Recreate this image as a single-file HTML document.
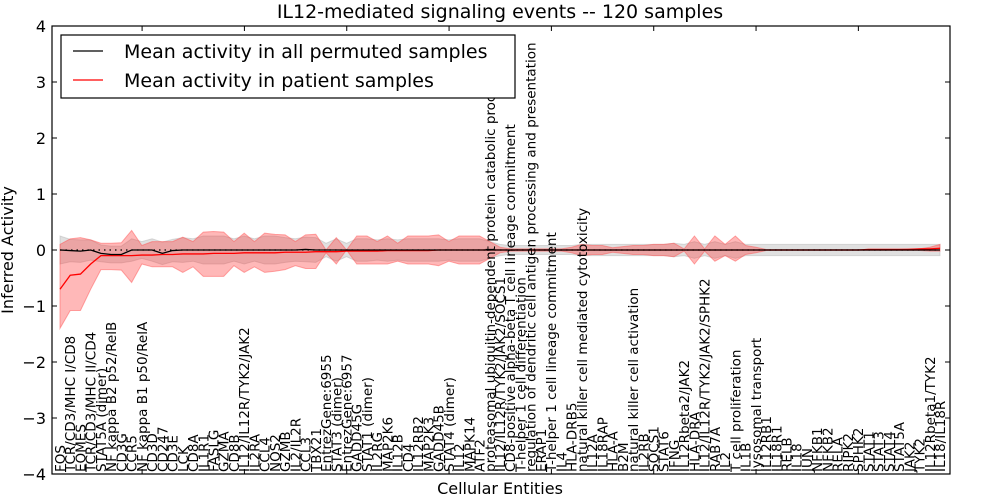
<!DOCTYPE html>
<html><head><meta charset="utf-8"><style>
body{margin:0;background:#fff;}
svg{display:block;font-family:"DejaVu Sans","Liberation Sans",sans-serif;}
</style></head><body>
<svg id="chart" width="1000" height="500" viewBox="0 0 1000 500" xmlns="http://www.w3.org/2000/svg">
<defs><clipPath id="clip"><rect x="52" y="26" width="898" height="448"/></clipPath></defs>
<rect x="0" y="0" width="1000" height="500" fill="#fff"/>
<g id="plot"></g>
<text x="500" y="18" text-anchor="middle" font-size="19">IL12-mediated signaling events -- 120 samples</text>
<text x="500" y="494" text-anchor="middle" font-size="16">Cellular Entities</text>
<text transform="translate(13,250) rotate(-90)" text-anchor="middle" font-size="16">Inferred Activity</text>
<g>
<rect x="61" y="35" width="454" height="63" fill="#fff" stroke="#000" stroke-width="1.2"/>
<line x1="73" y1="51" x2="103" y2="51" stroke="#000" stroke-width="1.2"/>
<text x="124" y="58" font-size="19">Mean activity in all permuted samples</text>
<line x1="73" y1="80" x2="103" y2="80" stroke="#f00" stroke-width="1.2"/>
<text x="124" y="87" font-size="19">Mean activity in patient samples</text>
</g>
</svg>
<script>
const categories=["FOS","TCR/CD3/MHC I/CD8","EOMES","TCR/CD3/MHC II/CD4","STAT5A (dimer)","NF kappa B2 p52/RelB","CD3G","CCR5","NF kappa B1 p50/RelA","CD3D","CD247","CD3E","LCK","CD8A","IL1R1","FASLG","GZMA","CD8B","IL12/IL12R/TYK2/JAK2","IL2RA","CCL4","NOS2","GZMB","IL2/IL2R","CCL3","TBX21","EntrezGene:6955","STAT3 (dimer)","EntrezGene:6957","GADD45G","STAT1 (dimer)","IL2RG","MAP2K6","IL12B","CD4","IL12RB2","MAP2K3","GADD45B","STAT4 (dimer)","IL12","MAPK14","ATF2","proteasomal ubiquitin-dependent protein catabolic process","IL12/IL12R/TYK2/JAK2/SOCS1","CD8-positive alpha-beta T cell lineage commitment","T-helper 1 cell differentiation","regulation of dendritic cell antigen processing and presentation","ERAP1","T-helper 1 cell lineage commitment","IL4","HLA-DRB5","natural killer cell mediated cytotoxicity","IL12A","IL18RAP","HLA-A","B2M","natural killer cell activation","IL2RB","SOCS1","STAT6","IFNG","IL12Rbeta2/JAK2","HLA-DRA","IL12/IL12R/TYK2/JAK2/SPHK2","RAB7A","IL2","T cell proliferation","IL1B","lysosomal transport","IL12RB1","IL18R1","RELB","IL18","JUN","NFKB1","NFKB2","RELA","RIPK2","SPHK2","STAT1","STAT3","STAT4","STAT5A","JAK2","TYK2","IL12Rbeta1/TYK2","IL18/IL18R"];
const patientMean=[-0.7,-0.45,-0.43,-0.25,-0.1,-0.1,-0.1,-0.1,-0.09,-0.09,-0.08,-0.08,-0.07,-0.07,-0.07,-0.06,-0.06,-0.06,-0.05,-0.05,-0.05,-0.05,-0.04,-0.04,-0.04,-0.03,-0.03,-0.03,-0.02,-0.02,-0.02,-0.02,-0.01,-0.01,-0.01,-0.01,-0.01,0,0,0,0,0,0,0,0,0,0,0,0,0,0,0,0,0,0,0,0,0,0,0,0,0,0,0,0,0,0,0,0,0,0,0,0,0,0,0,0,0,0,0.01,0.01,0.01,0.01,0.01,0.02,0.02,0.03];
const patientHi=[0.1,0.2,0.22,0.18,0.12,0.12,0.13,0.35,0.08,0.15,0.15,0.15,0.23,0.15,0.32,0.33,0.32,0.15,0.3,0.15,0.3,0.28,0.27,0.15,0.27,0.28,0.0,0.22,0.0,0.25,0.25,0.15,0.25,0.12,0.25,0.25,0.25,0.27,0.15,0.25,0.25,0.25,0.15,0.05,0.02,0.02,0.02,0.02,0.02,0.02,0.05,0.1,0.08,0.08,0.04,0.06,0.08,0.08,0.1,0.1,0.12,0.02,0.25,0.02,0.25,0.1,0.25,0.08,0.05,0.01,0.01,0.01,0.01,0.01,0.01,0.01,0.01,0.01,0.01,0.01,0.01,0.01,0.01,0.02,0.02,0.05,0.1];
const patientLo=[-1.4,-1.08,-1.08,-0.7,-0.35,-0.35,-0.36,-0.58,-0.25,-0.3,-0.3,-0.3,-0.4,-0.3,-0.47,-0.47,-0.47,-0.28,-0.4,-0.3,-0.4,-0.38,-0.35,-0.28,-0.33,-0.33,-0.05,-0.25,0.0,-0.25,-0.25,-0.25,-0.25,-0.2,-0.25,-0.25,-0.25,-0.28,-0.2,-0.25,-0.25,-0.25,-0.15,-0.05,-0.02,-0.02,-0.02,-0.02,-0.02,-0.02,-0.05,-0.1,-0.08,-0.08,-0.04,-0.06,-0.08,-0.08,-0.1,-0.1,-0.12,-0.02,-0.25,-0.02,-0.2,-0.1,-0.2,-0.08,-0.05,-0.01,-0.01,-0.01,-0.01,-0.01,-0.01,-0.01,-0.01,-0.01,-0.01,-0.01,-0.01,-0.01,-0.01,-0.01,-0.01,-0.02,-0.02];
const permutedMean=[0,-0.01,-0.02,0,-0.06,-0.08,-0.08,0,0,0,-0.06,-0.01,0,0,0,0,0,0,0,0,0,0,0,0,0.01,0,0,0,0,0,0,0,0,0,0,0,0,0,0,0,0,0,0,0,0,0,0,0,0,0,0,0,0,0,0,0,0,0,0,0,0,0,0,0,0,0,0,0,0,0,0,0,0,0,0,0,0,0,0,0,0,0,0,0,0,0,0];
const permutedSd=[0.25,0.2,0.2,0.18,0.15,0.15,0.15,0.2,0.15,0.2,0.2,0.2,0.22,0.2,0.25,0.25,0.25,0.2,0.25,0.2,0.25,0.25,0.22,0.2,0.22,0.22,0.12,0.2,0.12,0.2,0.2,0.18,0.2,0.18,0.2,0.2,0.2,0.2,0.18,0.2,0.2,0.2,0.15,0.1,0.08,0.08,0.08,0.08,0.08,0.08,0.08,0.1,0.1,0.1,0.1,0.1,0.1,0.1,0.1,0.1,0.12,0.1,0.15,0.1,0.15,0.1,0.15,0.1,0.1,0.1,0.1,0.1,0.1,0.1,0.1,0.1,0.1,0.1,0.1,0.1,0.1,0.1,0.1,0.1,0.1,0.1,0.1];
const yTicks=[-4,-3,-2,-1,0,1,2,3,4];
const yTickLabels=["\u22124","\u22123","\u22122","\u22121","0","1","2","3","4"];
const xTickIdx=[9,19,29,39,49,59,69,79];

const NS="http://www.w3.org/2000/svg";
const L=52,R=950,T=26,B=474;
function xs(i){return 60+i*(880/(categories.length-1));}
function ys(v){return 250-v*56;}
const g=document.getElementById('plot');
function mk(tag,attrs,parent){const e=document.createElementNS(NS,tag);for(const k in attrs)e.setAttribute(k,attrs[k]);(parent||g).appendChild(e);return e;}
function band(lo,hi){let d="M"+categories.map((c,i)=>xs(i)+","+ys(hi[i])).join("L");for(let i=categories.length-1;i>=0;i--)d+="L"+xs(i)+","+ys(lo[i]);return d+"Z";}
const pHi=permutedMean.map((m,i)=>m+permutedSd[i]),pLo=permutedMean.map((m,i)=>m-permutedSd[i]);
const gb=mk('path',{d:band(pLo,pHi),fill:'#bbb','fill-opacity':'0.45',stroke:'#aaa','stroke-opacity':'0.4'});


const rb=mk('path',{d:band(patientLo,patientHi),fill:'#f33','fill-opacity':'0.35',stroke:'#f55','stroke-opacity':'0.5'});


const dl=mk('line',{x1:xs(0),y1:ys(0),x2:xs(categories.length-1),y2:ys(0),stroke:'#000','stroke-dasharray':'1.5,4','stroke-width':'1.2'});


const rl=mk('polyline',{points:patientMean.map((v,i)=>xs(i)+","+ys(v)).join(" "),fill:'none',stroke:'#f00','stroke-width':'1.3'});


const bl=mk('polyline',{points:permutedMean.map((v,i)=>xs(i)+","+ys(v)).join(" "),fill:'none',stroke:'#000','stroke-width':'1.3'});


const lg=mk('g',{'clip-path':'url(#clip)'});


categories.forEach((c,i)=>{
 const t=mk('text',{transform:`translate(${xs(i)+5},472) rotate(-90)`,'font-size':'13.5'},lg);
 t.textContent=c;
 
 
});
const fr=mk('rect',{x:L,y:T,width:R-L,height:B-T,fill:'none',stroke:'#000','stroke-width':'1.2'});


yTicks.forEach((v,k)=>{
 const y=ys(v);
 const t1=mk('line',{x1:L,y1:y,x2:L+5,y2:y,stroke:'#000'});
 
 
 const t2=mk('line',{x1:R,y1:y,x2:R-5,y2:y,stroke:'#000'});
 
 
 const lb=mk('text',{x:L-6,y:y+6,'text-anchor':'end','font-size':'16'});
 lb.textContent=yTickLabels[k];
 
 
});
xTickIdx.forEach(i=>{
 const x=xs(i)-10;
 const t1=mk('line',{x1:x,y1:T,x2:x,y2:T+5,stroke:'#000'});
 
 
 const t2=mk('line',{x1:x,y1:B,x2:x,y2:B-5,stroke:'#000'});
 
 
});
</script>
</body></html>
